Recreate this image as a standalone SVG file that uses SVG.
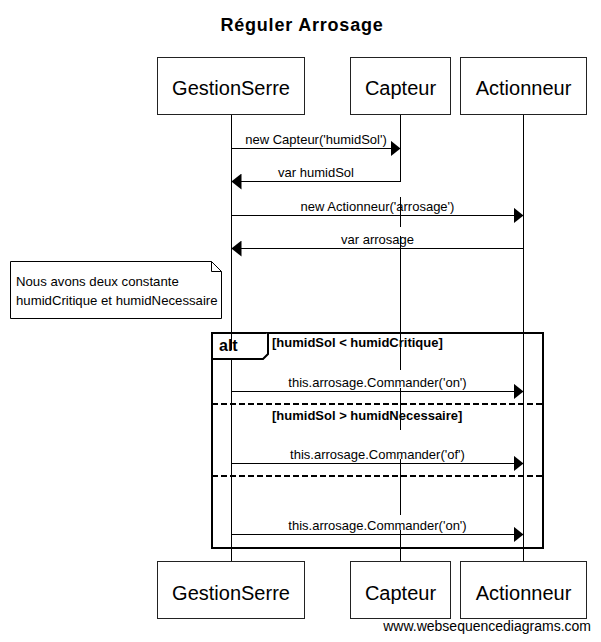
<svg xmlns="http://www.w3.org/2000/svg" width="601" height="642" viewBox="0 0 601 642">
<defs>
<marker id="ah" markerUnits="userSpaceOnUse" markerWidth="10" markerHeight="16" refX="10" refY="8" orient="auto">
<path d="M0,0 L10,8 L0,16 z" fill="#000"/>
</marker>
<style>
text{font-family:"Liberation Sans",Arial,sans-serif;fill:#000}
.box{fill:#fff;stroke:#222;stroke-width:1}
.pt{font-size:20px;text-anchor:middle}
.life{stroke:#000;stroke-width:1}
.msg{stroke:#000;stroke-width:1;fill:none;marker-end:url(#ah)}
.ml{font-size:13px;text-anchor:middle}
.guard{font-size:13px;font-weight:bold}
.frame{fill:none;stroke:#000;stroke-width:2}
.dash{stroke:#000;stroke-width:2;stroke-dasharray:6,3}
.nt{font-size:13.2px}
</style>
</defs>
<rect width="601" height="642" fill="#fff"/>
<text x="302" y="31" style="font-size:18px;font-weight:bold;letter-spacing:0.8px" text-anchor="middle">Réguler Arrosage</text>

<g id="lifelines">
<line class="life" x1="231.5" y1="114" x2="231.5" y2="561"/>
<path class="life" d="M400.5,114 V182 M400.5,197 V227 M400.5,236 V370 M400.5,388 V430 M400.5,459 V515 M400.5,530 V561"/>
<line class="life" x1="523.5" y1="114" x2="523.5" y2="561"/>
</g>

<g id="GestionSerre">
<rect class="box" x="157.5" y="57.5" width="147" height="57"/>
<text class="pt" x="231" y="95">GestionSerre</text>
<rect class="box" x="157.5" y="561.5" width="147" height="57"/>
<text class="pt" x="231" y="600">GestionSerre</text>
</g>
<g id="Capteur">
<rect class="box" x="350.5" y="57.5" width="100" height="57"/>
<text class="pt" x="400.5" y="95">Capteur</text>
<rect class="box" x="350.5" y="561.5" width="100" height="57"/>
<text class="pt" x="400.5" y="600">Capteur</text>
</g>
<g id="Actionneur">
<rect class="box" x="460.5" y="57.5" width="126" height="57"/>
<text class="pt" x="523.5" y="95">Actionneur</text>
<rect class="box" x="460.5" y="561.5" width="126" height="57"/>
<text class="pt" x="523.5" y="600">Actionneur</text>
</g>

<g id="note">
<path d="M10.5,261.5 H211.5 L221.5,271.5 V318.5 H10.5 Z" fill="#fff" stroke="#000" stroke-width="1"/>
<path d="M211.5,261.5 V271.5 H221.5" fill="none" stroke="#000" stroke-width="1"/>
<text class="nt" x="16" y="286">Nous avons deux constante</text>
<text class="nt" x="16" y="305">humidCritique et humidNecessaire</text>
</g>

<g id="alt">
<rect class="frame" x="212" y="333" width="331" height="215"/>
<path d="M212,359 H263 L268,354 V333" fill="#fff" stroke="#000" stroke-width="2"/>
<text x="219" y="351" style="font-size:16px;font-weight:bold">alt</text>
<text class="guard" x="272" y="347">[humidSol &lt; humidCritique]</text>
<line class="dash" x1="212" y1="404" x2="543" y2="404"/>
<text class="guard" x="272" y="420">[humidSol &gt; humidNecessaire]</text>
<line class="dash" x1="212" y1="476" x2="543" y2="476"/>
</g>

<g id="connectors">
<line class="msg" x1="231.5" y1="148.5" x2="400.5" y2="148.5"/>
<text class="ml" x="316" y="143.5">new Capteur('humidSol')</text>
<line class="msg" x1="400.5" y1="181.5" x2="231.5" y2="181.5"/>
<text class="ml" x="316" y="176.5">var humidSol</text>
<line class="msg" x1="231.5" y1="215.5" x2="523.5" y2="215.5"/>
<text class="ml" x="377.5" y="210.5">new Actionneur('arrosage')</text>
<line class="msg" x1="523.5" y1="248.5" x2="231.5" y2="248.5"/>
<text class="ml" x="377.5" y="243.5">var arrosage</text>
<line class="msg" x1="231.5" y1="391.5" x2="523.5" y2="391.5"/>
<text class="ml" x="377.5" y="386.5">this.arrosage.Commander('on')</text>
<line class="msg" x1="231.5" y1="463.5" x2="523.5" y2="463.5"/>
<text class="ml" x="377.5" y="458.5">this.arrosage.Commander('of')</text>
<line class="msg" x1="231.5" y1="534.5" x2="523.5" y2="534.5"/>
<text class="ml" x="377.5" y="529.5">this.arrosage.Commander('on')</text>
</g>

<text x="591" y="631" style="font-size:14px" text-anchor="end">www.websequencediagrams.com</text>
</svg>
